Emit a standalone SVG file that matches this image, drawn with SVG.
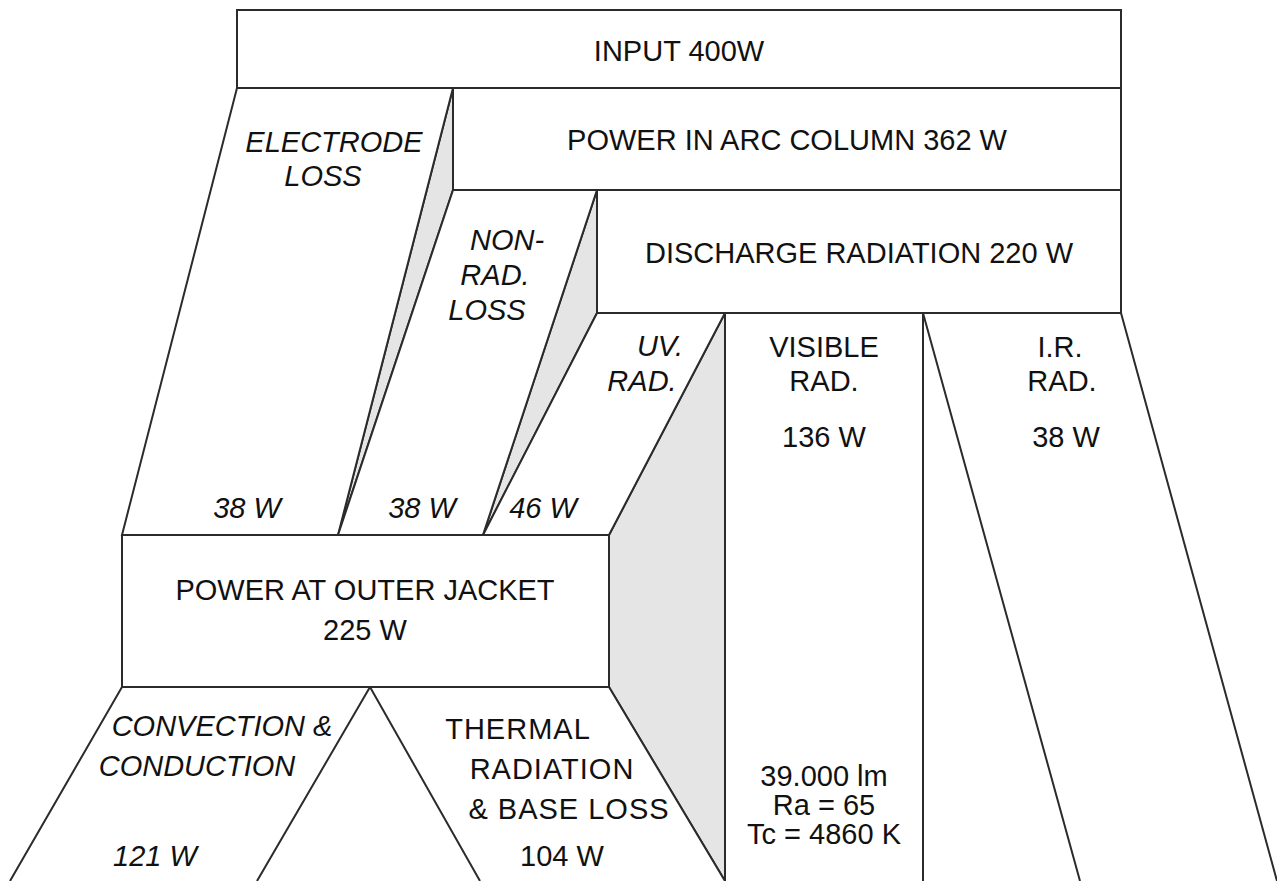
<svg xmlns="http://www.w3.org/2000/svg" width="1277" height="881" viewBox="0 0 1277 881">
<style>
.b{fill:#fff;stroke:#2b2b2b;stroke-width:2;stroke-linejoin:miter}
.g{fill:#e5e5e5;stroke:#2b2b2b;stroke-width:2}
.t{font-family:"Liberation Sans",Arial,sans-serif;font-size:29px;fill:#111;text-anchor:middle}
.i{font-style:italic}
.w{letter-spacing:1px}
</style>
<rect width="1277" height="881" fill="#fff"/>
<g id="shading">
<polygon class="g" points="453,88 453,190 338,535"/>
<polygon class="g" points="597,190 597,313 483,535"/>
<polygon class="g" points="725,313 725,881 609,687 609,535"/>
</g>
<g id="input"><rect class="b" x="237" y="10" width="884" height="78"/>
<text class="t" x="679" y="61">INPUT 400W</text></g>
<g id="arc"><rect class="b" x="453" y="88" width="668" height="102"/>
<text class="t" x="787" y="150">POWER IN ARC COLUMN 362 W</text></g>
<g id="discharge"><rect class="b" x="597" y="190" width="524" height="123"/>
<text class="t" x="859" y="263">DISCHARGE RADIATION 220 W</text></g>
<g id="electrode"><polygon class="b" points="237,88 453,88 338,535 122,535"/>
<text class="t i" x="334" y="152">ELECTRODE</text>
<text class="t i" x="323" y="186">LOSS</text>
<text class="t i" x="247" y="518">38 W</text></g>
<g id="nonrad"><polygon class="b" points="453,190 597,190 483,535 338,535"/>
<text class="t i" x="507" y="250">NON-</text>
<text class="t i" x="495" y="285">RAD.</text>
<text class="t i" x="487" y="320">LOSS</text>
<text class="t i" x="422" y="518">38 W</text></g>
<g id="uv"><polygon class="b" points="597,313 725,313 609,535 483,535"/>
<text class="t i" x="660" y="356">UV.</text>
<text class="t i" x="642" y="391">RAD.</text>
<text class="t i" x="543" y="518">46 W</text></g>
<g id="visible"><path class="b" d="M725,881 L725,313 L923,313 L923,881"/>
<text class="t" x="824" y="357">VISIBLE</text>
<text class="t" x="824" y="391">RAD.</text>
<text class="t" x="824" y="447">136 W</text>
<text class="t" x="824" y="786">39.000 lm</text>
<text class="t" x="824" y="815">Ra = 65</text>
<text class="t" x="824" y="844">Tc = 4860 K</text></g>
<g id="ir"><path class="b" d="M1080,881 L923,313 L1121,313 L1277,881"/>
<text class="t" x="1060" y="357">I.R.</text>
<text class="t" x="1062" y="391">RAD.</text>
<text class="t" x="1066" y="447">38 W</text></g>
<g id="jacket"><rect class="b" x="122" y="535" width="487" height="152"/>
<text class="t" x="365" y="600">POWER AT OUTER JACKET</text>
<text class="t" x="365" y="640">225 W</text></g>
<g id="convection"><path class="b" d="M10,881 L122,687 L370,687 L257,881"/>
<text class="t i" x="222" y="736">CONVECTION &amp;</text>
<text class="t i" x="197" y="776">CONDUCTION</text>
<text class="t i" x="155" y="866">121 W</text></g>
<g id="thermal"><path class="b" d="M480,881 L370,687 L609,687 L725,881"/>
<text class="t w" x="518" y="739">THERMAL</text>
<text class="t w" x="552" y="779">RADIATION</text>
<text class="t w" x="569" y="819">&amp; BASE LOSS</text>
<text class="t" x="562" y="866">104 W</text></g>
<g id="connectors"></g>
</svg>
